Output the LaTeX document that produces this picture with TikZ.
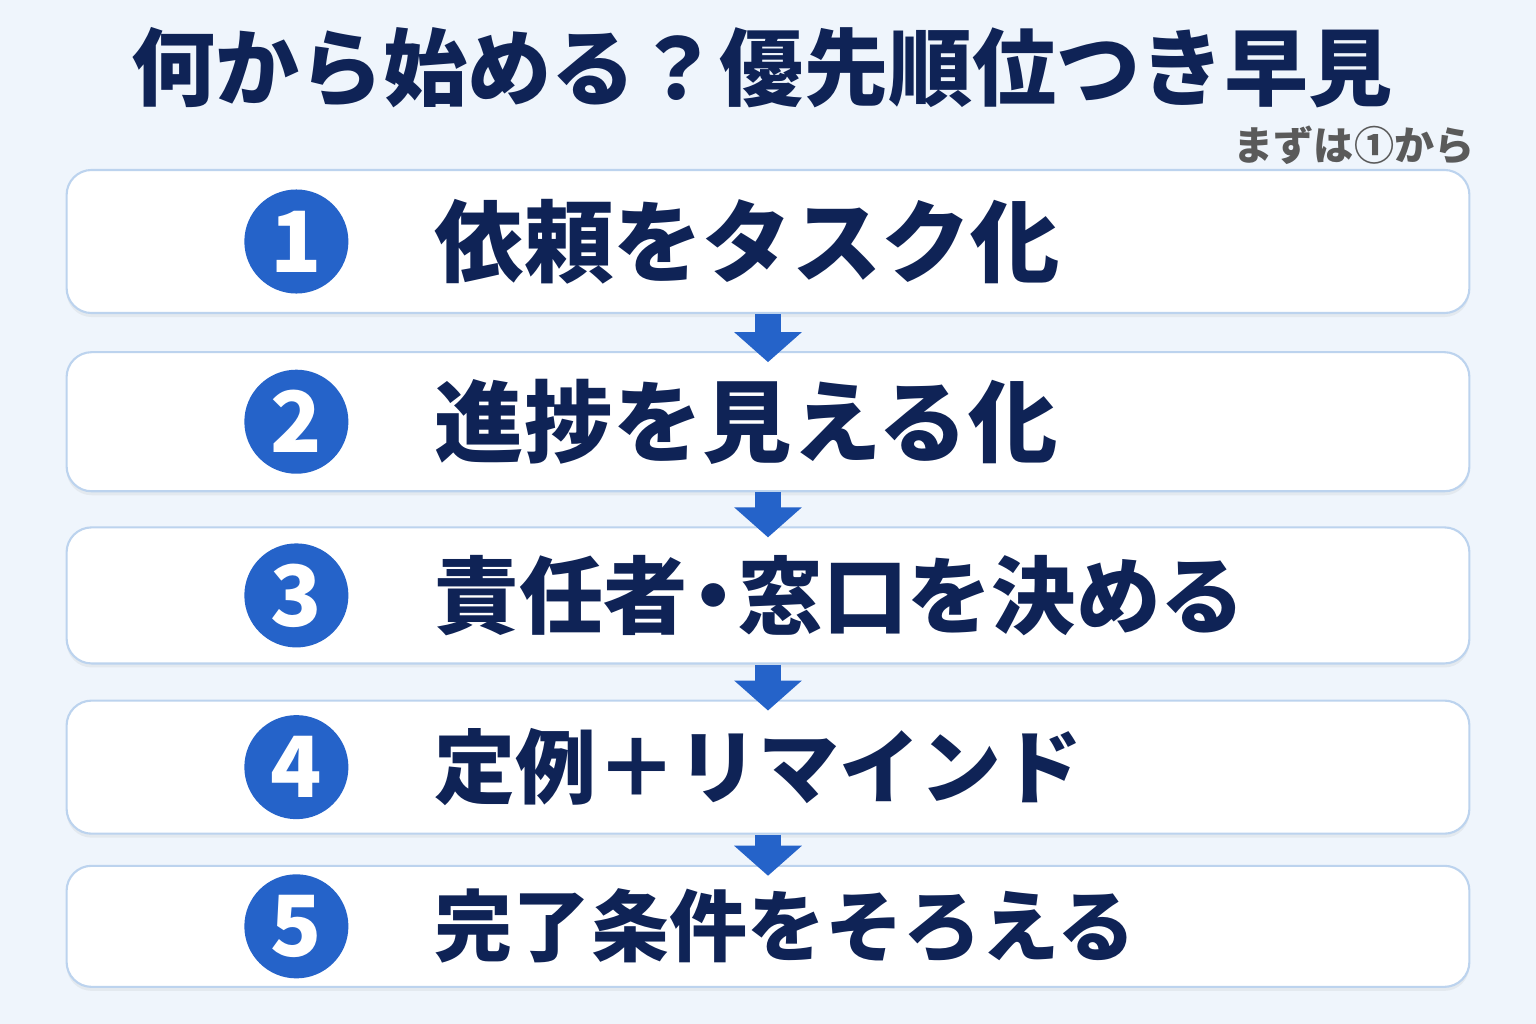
\documentclass[tikz,border=0pt]{standalone}
\usepackage{fontspec}
\newfontfamily\jpfont{Noto Sans CJK JP}
\usetikzlibrary{positioning,shadows,arrows.meta}
\definecolor{pagebg}{HTML}{EFF5FC}
\definecolor{navy}{HTML}{0F2356}
\definecolor{stepblue}{HTML}{2563C9}
\definecolor{boxline}{HTML}{BCD3EE}
\definecolor{notegray}{HTML}{5A5A5A}

\begin{document}
\begin{tikzpicture}[x=0.01cm, y=-0.01cm,
    stepbox/.style={rectangle, rounded corners=0.25cm, draw=boxline, line width=0.6pt, fill=white, minimum width=14.02cm,
        drop shadow={opacity=0.1, shadow xshift=0cm, shadow yshift=-0.04cm}},
    stepnum/.style={circle, fill=stepblue, text=white, minimum size=1.04cm, inner sep=0pt,
        font=\jpfont\bfseries\fontsize{24pt}{24pt}\selectfont},
    steptext/.style={inner sep=0pt, text=navy, font=\jpfont\bfseries\fontsize{#1}{#1}\selectfont},
    steparrow/.style={draw=stepblue, line width=0.26cm, -{Triangle[width=0.66cm, length=0.3cm]}, shorten >=-0.11cm}]
    \fill[pagebg] (0,0) rectangle (1536,1024);

    % Steps
    \node[stepbox, minimum height=1.43cm] (task) at (768,241.5) {};
    \node[stepbox, minimum height=1.39cm, below=0.37cm of task] (progress) {};
    \node[stepbox, minimum height=1.36cm, below=0.34cm of progress] (owner) {};
    \node[stepbox, minimum height=1.33cm, below=0.35cm of owner] (remind) {};
    \node[stepbox, minimum height=1.21cm, below=0.30cm of remind] (done) {};

    % Numbers
    \node[stepnum, right=1.78cm of task.west] (num1) {1};
    \node[stepnum, right=1.78cm of progress.west] (num2) {2};
    \node[stepnum, right=1.78cm of owner.west] (num3) {3};
    \node[stepnum, right=1.78cm of remind.west] (num4) {4};
    \node[stepnum, right=1.78cm of done.west] (num5) {5};

    % Order
    \draw[steparrow] (task) -- (progress);
    \draw[steparrow] (progress) -- (owner);
    \draw[steparrow] (owner) -- (remind);
    \draw[steparrow] (remind) -- (done);

    % Labels
    \node[steptext=25.4pt, right=0.85cm of num1] (label1) {依頼をタスク化};
    \node[steptext=25.4pt, right=0.85cm of num2] (label2) {進捗を見える化};
    \node[steptext=24pt, right=0.85cm of num3] (label3) {責任者\kern-.2em・\kern-.2em窓口を決める};
    \node[steptext=23pt, right=0.85cm of num4] (label4) {定例＋リマインド};
    \node[steptext=22.2pt, right=0.85cm of num5] (label5) {完了条件をそろえる};
    \node[text=navy, font=\jpfont\bfseries\fontsize{23.9pt}{24pt}\selectfont] (title) at (762,68) {何から始める？優先順位つき早見};
    \node[anchor=east, inner sep=0pt, text=notegray, font=\jpfont\bfseries\fontsize{11.4pt}{12pt}\selectfont] (note) at (1475,145) {まずは①から};
\end{tikzpicture}
\end{document}
